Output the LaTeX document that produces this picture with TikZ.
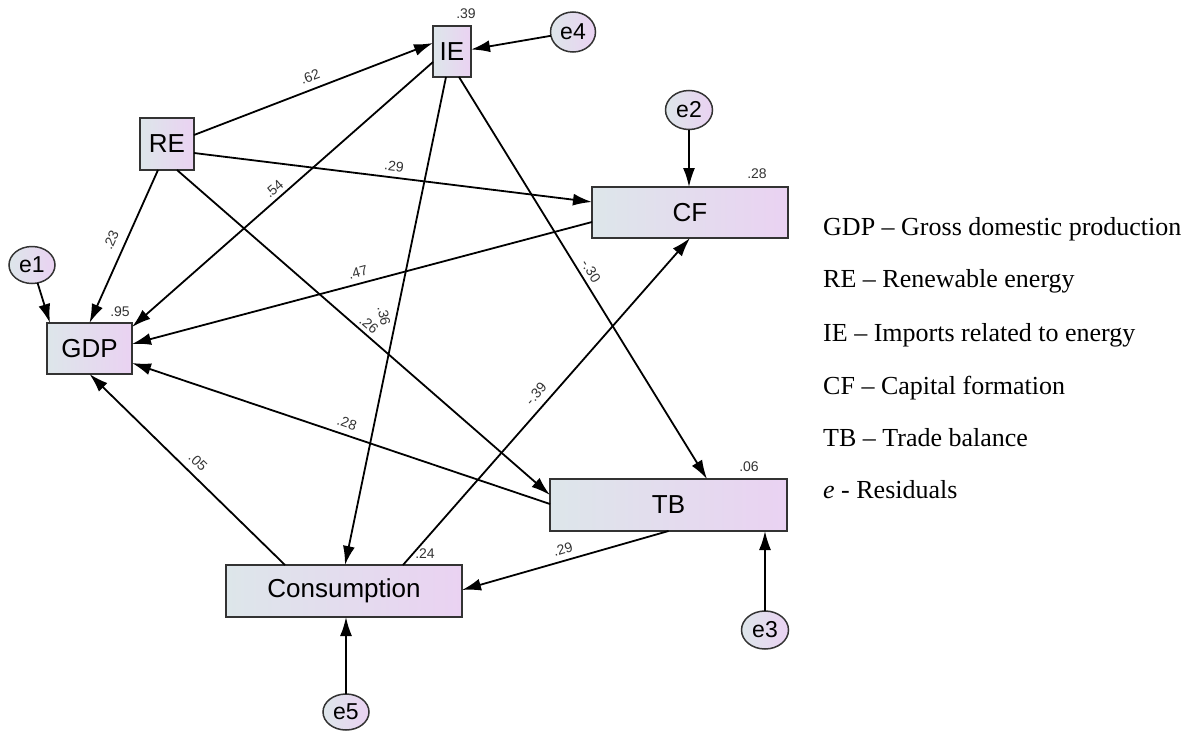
\documentclass[tikz,border=0pt]{standalone}
\usepackage{fontspec}
\setmainfont{Liberation Serif}
\newfontfamily\arialf{Liberation Sans}
\usetikzlibrary{arrows.meta,calc,shapes.geometric}
\definecolor{fillL}{HTML}{DDE6EA}
\definecolor{fillR}{HTML}{EAD2F2}
\definecolor{bord}{HTML}{333333}
\tikzset{
  varbox/.style={draw=bord, line width=1.7pt, left color=fillL, right color=fillR,
    inner sep=0pt, outer sep=0pt, font=\arialf\fontsize{26}{30}\selectfont},
  errnode/.style={ellipse, draw=bord, line width=1.5pt, left color=fillL, right color=fillR,
    inner sep=0pt, outer sep=0pt, minimum width=46pt, minimum height=38pt,
    font=\arialf\fontsize{23}{26}\selectfont},
  path/.style={line width=1.8pt, -{Latex[length=19pt,width=12pt]}},
  coef/.style={font=\arialf\fontsize{14}{16}\selectfont, inner sep=0pt, text=black!80},
  legend/.style={anchor=base west, inner sep=0pt, font=\fontsize{26}{30}\selectfont}
}
\begin{document}
\begin{tikzpicture}[x=1pt,y=-1pt]
\useasboundingbox (0,0) rectangle (1192,731);
% variables
\node[varbox, minimum width=54pt, minimum height=52pt] (RE) at (167,144) {RE};
\node[varbox, minimum width=38pt, minimum height=51pt] (IE) at (452,51.5) {IE};
\node[varbox, minimum width=196pt, minimum height=51pt] (CF) at (690,212.5) {CF};
\node[varbox, minimum width=85pt, minimum height=51pt] (GDP) at (89.5,348.5) {GDP};
\node[varbox, minimum width=237pt, minimum height=52pt] (TB) at (668.5,505) {TB};
\node[varbox, minimum width=236pt, minimum height=52pt] (CO) at (344,591) {Consumption};
% errors
\node[errnode, minimum height=37pt] (e1) at (32,265) {e1};
\node[errnode, minimum width=47pt, minimum height=39pt] (e2) at (689,110) {e2};
\node[errnode, minimum width=47pt] (e3) at (765,630) {e3};
\node[errnode, minimum width=45pt, minimum height=40pt] (e4) at (573,32) {e4};
\node[errnode, minimum height=36pt] (e5) at (346,712) {e5};
% paths
\draw[path] ($(RE.east)+(0,-9)$) -- ($(IE.west)+(0,-8.5)$);
\draw[path] ($(RE.east)+(0,9)$) -- ($(CF.west)+(0,-10.5)$);
\draw[path] ($(RE.south)+(-9,0)$) -- (GDP.north);
\draw[path] ($(RE.south)+(10,0)$) -- ($(TB.west)+(0,-10)$);
\draw[path] ($(IE.west)+(0,10.5)$) -- ($(GDP.east)+(0,-21.5)$);
\draw[path] ($(IE.south)+(-6,0)$) -- ($(CO.north)+(1,0)$);
\draw[path] ($(IE.south)+(7,0)$) -- ($(TB.north)+(38.5,0)$);
\draw[path] ($(CF.west)+(0,9.5)$) -- ($(GDP.east)+(0,-4.5)$);
\draw[path] ($(TB.west)+(0,-1)$) -- ($(GDP.east)+(0,14.5)$);
\draw[path] ($(CO.north)+(-59,0)$) -- (GDP.south);
\draw[path] ($(CO.north)+(59,0)$) -- (CF.south);
\draw[path] (TB.south) -- ($(CO.east)+(0,-1)$);
\coordinate (gdpin) at ($(GDP.north west)+(3,0)$);
\draw[path] (e1) -- (gdpin);
\draw[path] (e2) -- (e2 |- CF.north);
\draw[path] (e3) -- (e3 |- TB.south);
\draw[path] (e4) -- ($(IE.east)+(0,-2)$);
\draw[path] (e5) -- (e5 |- CO.south);
% coefficients
\node[coef, rotate=21] (c1) at (310,77) {.62};
\node[coef, rotate=-7] (c2) at (394,166) {.29};
\node[coef, rotate=66] (c3) at (111,240) {.23};
\node[coef, rotate=41] (c4) at (274,189) {.54};
\node[coef, rotate=15] (c5) at (358,272) {.47};
\node[coef, rotate=-41] (c6) at (369,325) {.26};
\node[coef, rotate=-78] (c7) at (384,316) {.36};
\node[coef, rotate=-58] (c8) at (591,271) {-.30};
\node[coef, rotate=-19] (c9) at (347,423) {.28};
\node[coef, rotate=-44] (c10) at (198,462) {.05};
\node[coef, rotate=49] (c11) at (536,394) {-.39};
\node[coef, rotate=16] (c12) at (563,549) {.29};
\node[coef] (r1) at (466,14) {.39};
\node[coef] (r2) at (757,174) {.28};
\node[coef] (r3) at (120,312) {.95};
\node[coef] (r4) at (749,467) {.06};
\node[coef] (r5) at (425,554) {.24};
% legend
\node[legend] (l1) at (823,235.5) {GDP -- Gross domestic production};
\node[legend] (l2) at (823,287) {RE -- Renewable energy};
\node[legend] (l3) at (823,341.5) {IE -- Imports related to energy};
\node[legend] (l4) at (823,394) {CF -- Capital formation};
\node[legend] (l5) at (823,446.5) {TB -- Trade balance};
\node[legend] (l6) at (823,498.5) {\textit{e} - Residuals};
\end{tikzpicture}
\end{document}
